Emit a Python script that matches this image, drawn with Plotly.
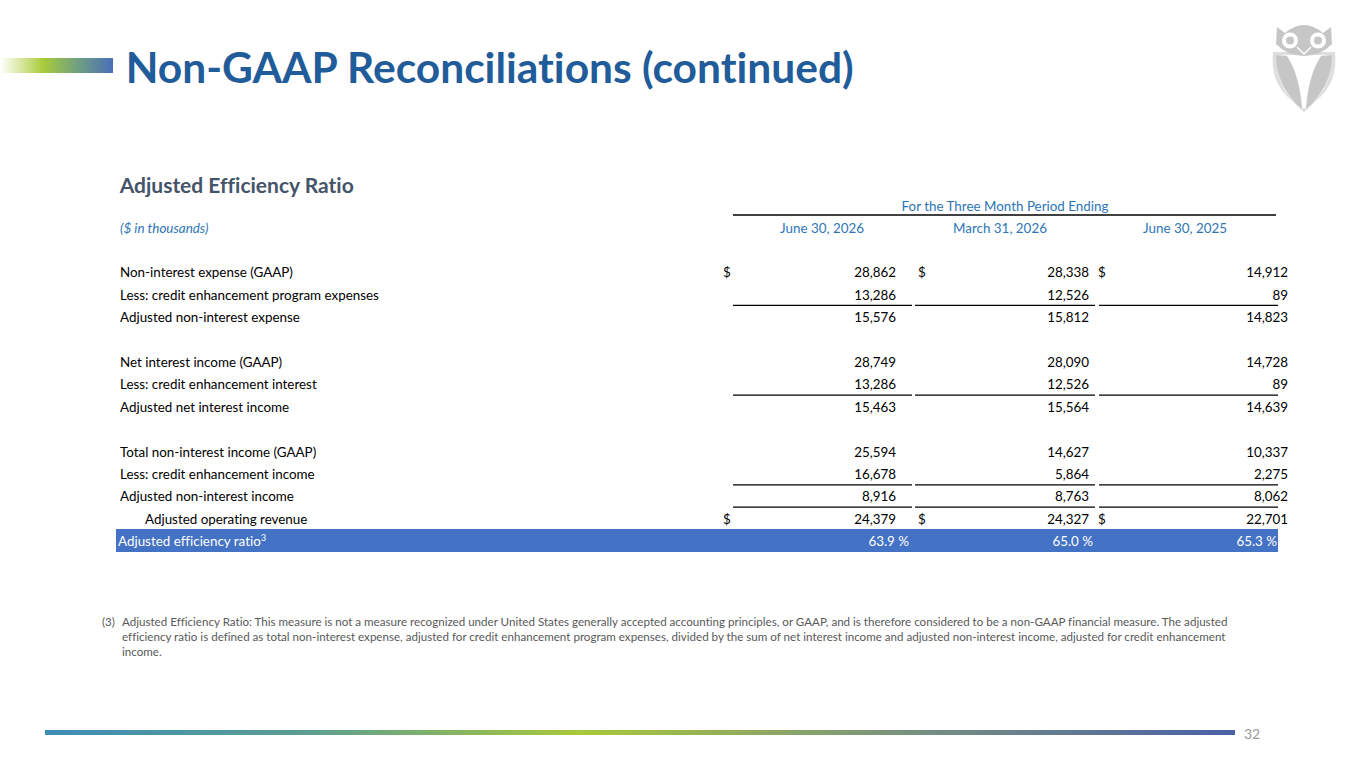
import plotly.graph_objects as go

# ===============================
# 0. TABLE DATA
# ===============================
ROW_LABELS = [
    "Non-interest expense (GAAP)",
    "Less: credit enhancement program expenses",
    "Adjusted non-interest expense",
    "",
    "Net interest income (GAAP)",
    "Less: credit enhancement interest",
    "Adjusted net interest income",
    "",
    "Total non-interest income (GAAP)",
    "Less: credit enhancement income",
    "Adjusted non-interest income",
    "Adjusted operating revenue",
]
PERIODS = ["June 30, 2026", "March 31, 2026", "June 30, 2025"]
JUN_2026 = [28862, 13286, 15576, None, 28749, 13286, 15463, None, 25594, 16678, 8916, 24379]
MAR_2026 = [28338, 12526, 15812, None, 28090, 12526, 15564, None, 14627, 5864, 8763, 24327]
JUN_2025 = [14912, 89, 14823, None, 14728, 89, 14639, None, 10337, 2275, 8062, 22701]
RATIO_LABEL = "Adjusted efficiency ratio<sup>3</sup>"
RATIOS = [63.9, 65.0, 65.3]

DOLLAR_ROWS = [0, 11]
UNDERLINE_ROWS = [1, 5, 9, 10]
INDENT_ROWS = [11]

TITLE = "Non-GAAP Reconciliations (continued)"
SUBTITLE = "Adjusted Efficiency Ratio"
GROUP_HEADER = "For the Three Month Period Ending"
UNITS = "($ in thousands)"
FOOTNOTE = (
    "Adjusted Efficiency Ratio: This measure is not a measure recognized under United States generally "
    "accepted accounting principles, or GAAP, and is therefore considered to be a non-GAAP financial measure. The adjusted<br>"
    "efficiency ratio is defined as total non-interest expense, adjusted for credit enhancement program expenses, "
    "divided by the sum of net interest income and adjusted non-interest income, adjusted for credit enhancement<br>"
    "income."
)
PAGE_NO = "32"

# ===============================
# 1. LAYOUT / STYLE
# ===============================
W, H = 1365, 768
FONT = "Lato"
BLUE_TITLE = "#1F5C99"
BLUE_HEAD = "#2E75B6"
SLATE = "#44546A"
BAND = "#4472C4"
TXT = "#000000"
GREY = "#595959"
FS = 13.4

ROW_Y0 = 272
ROW_STEP = 22.42
TEXT_DY = 1.8  # text baseline nudge vs. rules
LABEL_X = 120
INDENT_X = 145
COL_DOLLAR_X = [723, 918, 1098]
COL_RIGHT_X = [896, 1089, 1288]
COL_PCT_X = [909, 1093, 1277]
COL_LINES = [(733, 912), (915, 1095), (1099, 1278)]
COL_HEAD_X = [822, 1000, 1185]


def row_y(i):
    return ROW_Y0 + i * ROW_STEP


def text_trace(xs, ys, texts, pos, size=FS, color=TXT, italic=False):
    return go.Scatter(
        x=xs, y=[y + TEXT_DY for y in ys], text=texts, mode="text", textposition=pos,
        textfont=dict(family=FONT, size=size, color=color,
                      style="italic" if italic else "normal"),
        hoverinfo="skip", showlegend=False, cliponaxis=False,
    )


fig = go.Figure()

# ===============================
# 2. DECORATION (gradient bars)
# ===============================
fig.add_trace(go.Scatter(
    x=[0, 113, 113, 0, 0], y=[58, 58, 73, 73, 58],
    fill="toself", mode="none", hoverinfo="skip", showlegend=False,
    fillgradient=dict(type="horizontal", colorscale=[
        [0, "#FFFFFF"], [0.12, "#E6F0C2"], [0.38, "#A9CC3A"],
        [0.7, "#6E9E84"], [1, "#4A6EB8"]]),
))
fig.add_trace(go.Scatter(
    x=[45, 1235, 1235, 45, 45], y=[730, 730, 735, 735, 730],
    fill="toself", mode="none", hoverinfo="skip", showlegend=False,
    fillgradient=dict(type="horizontal", colorscale=[
        [0, "#3E8DB6"], [0.22, "#5C9E92"], [0.45, "#A9C83A"],
        [0.7, "#7D967A"], [1, "#4A60A8"]]),
))

# ===============================
# 3. TABLE
# ===============================
ratio_y = row_y(len(ROW_LABELS))
fig.add_shape(type="rect", x0=116, x1=1278, y0=ratio_y - 12, y1=ratio_y + 11,
              fillcolor=BAND, line_width=0, layer="below")

# header rule
fig.add_shape(type="line", x0=733, x1=1276, y0=215, y1=215,
              line=dict(color="#000000", width=1.5))

# column underlines
for r in UNDERLINE_ROWS:
    for a, b in COL_LINES:
        fig.add_shape(type="line", x0=a, x1=b, y0=row_y(r) + 11, y1=row_y(r) + 11,
                      line=dict(color="#000000", width=1.3))

# row labels
lx, ly, lt = [], [], []
for i, lab in enumerate(ROW_LABELS):
    if lab:
        lx.append(INDENT_X if i in INDENT_ROWS else LABEL_X)
        ly.append(row_y(i))
        lt.append(lab)
fig.add_trace(text_trace(lx, ly, lt, "middle right"))

# values
for c, col in enumerate([JUN_2026, MAR_2026, JUN_2025]):
    vx, vy, vt = [], [], []
    for i, v in enumerate(col):
        if v is not None:
            vx.append(COL_RIGHT_X[c])
            vy.append(row_y(i))
            vt.append(f"{v:,}")
    fig.add_trace(text_trace(vx, vy, vt, "middle left"))

# dollar signs
dx, dy = [], []
for r in DOLLAR_ROWS:
    for x in COL_DOLLAR_X:
        dx.append(x)
        dy.append(row_y(r))
fig.add_trace(text_trace(dx, dy, ["$"] * len(dx), "middle right"))

# ratio row
fig.add_trace(text_trace([LABEL_X - 2], [ratio_y], [RATIO_LABEL], "middle right", color="#FFFFFF"))
fig.add_trace(text_trace(COL_PCT_X, [ratio_y] * 3, [f"{v:.1f} %" for v in RATIOS],
                         "middle left", color="#FFFFFF"))

# headers
fig.add_trace(text_trace([1005], [206], [GROUP_HEADER], "middle center", color=BLUE_HEAD))
fig.add_trace(text_trace(COL_HEAD_X, [228] * 3, PERIODS, "middle center", color=BLUE_HEAD))
fig.add_trace(text_trace([LABEL_X], [228], [UNITS], "middle right", color=BLUE_HEAD, italic=True))

# ===============================
# 4. OWL LOGO
# ===============================
OWL = "#C6C6C6"
owl_paths = [
    # body outline
    ("M 1273 52 Q 1270 82 1290 99 L 1304 112 L 1318 99 Q 1338 82 1335 52 Z", "#DEDEDE"),
    # inner white chest
    ("M 1277 55 Q 1276 84 1293 100 L 1304 109 L 1315 100 Q 1332 84 1331 55 Z", "#FFFFFF"),
    # wings
    ("M 1276 55 Q 1276 87 1302 109 Q 1300 76 1287 56 Z", OWL),
    ("M 1332 55 Q 1332 87 1306 109 Q 1308 76 1321 56 Z", OWL),
    # head
    ("M 1277 27 L 1285 33 Q 1304 17 1323 33 L 1331 27 L 1332 44 "
     "Q 1322 55 1304 56 Q 1286 55 1276 44 Z", OWL),
]
for p, col in owl_paths:
    fig.add_shape(type="path", path=p, fillcolor=col, line_width=0)
for cx in (1290, 1318):
    fig.add_shape(type="circle", x0=cx - 8, x1=cx + 8, y0=32.5, y1=48.5,
                  fillcolor="#FFFFFF", line_width=0)
    fig.add_shape(type="circle", x0=cx - 4, x1=cx + 4, y0=36.5, y1=44.5,
                  fillcolor=OWL, line_width=0)
fig.add_shape(type="path", path="M 1297 47 L 1304 54 L 1311 47",
              line=dict(color="#FFFFFF", width=1.5))

# ===============================
# 5. TEXT BLOCKS
# ===============================
fig.add_annotation(x=123, y=66, text=f"<b>{TITLE}</b>", showarrow=False,
                   xanchor="left", yanchor="middle",
                   font=dict(family=FONT, size=42.5, color=BLUE_TITLE))
fig.add_annotation(x=117, y=184, text=f"<b>{SUBTITLE}</b>", showarrow=False,
                   xanchor="left", yanchor="middle",
                   font=dict(family=FONT, size=21, color=SLATE))
fig.add_annotation(x=100, y=613, text="(3)", showarrow=False,
                   xanchor="left", yanchor="top",
                   font=dict(family=FONT, size=11.6, color=GREY))
fig.add_annotation(x=120, y=613, text=FOOTNOTE, showarrow=False, align="left",
                   xanchor="left", yanchor="top",
                   font=dict(family=FONT, size=11.6, color=GREY))
fig.add_annotation(x=1252, y=733, text=PAGE_NO, showarrow=False,
                   xanchor="center", yanchor="middle",
                   font=dict(family=FONT, size=14, color="#9A9A9A"))

fig.update_layout(
    width=W, height=H, autosize=False,
    margin=dict(l=0, r=0, t=0, b=0),
    paper_bgcolor="#FFFFFF", plot_bgcolor="#FFFFFF",
    xaxis=dict(range=[0, W], visible=False, fixedrange=True),
    yaxis=dict(range=[H, 0], visible=False, fixedrange=True),
    showlegend=False,
)

fig.write_html(
    "out.html",
    config={"displayModeBar": False},
    post_script=(
        "document.body.style.margin='0';"
        "document.querySelectorAll('svg text').forEach(function(t){"
        "t.style.fontVariantLigatures='none';});"
    ),
)
